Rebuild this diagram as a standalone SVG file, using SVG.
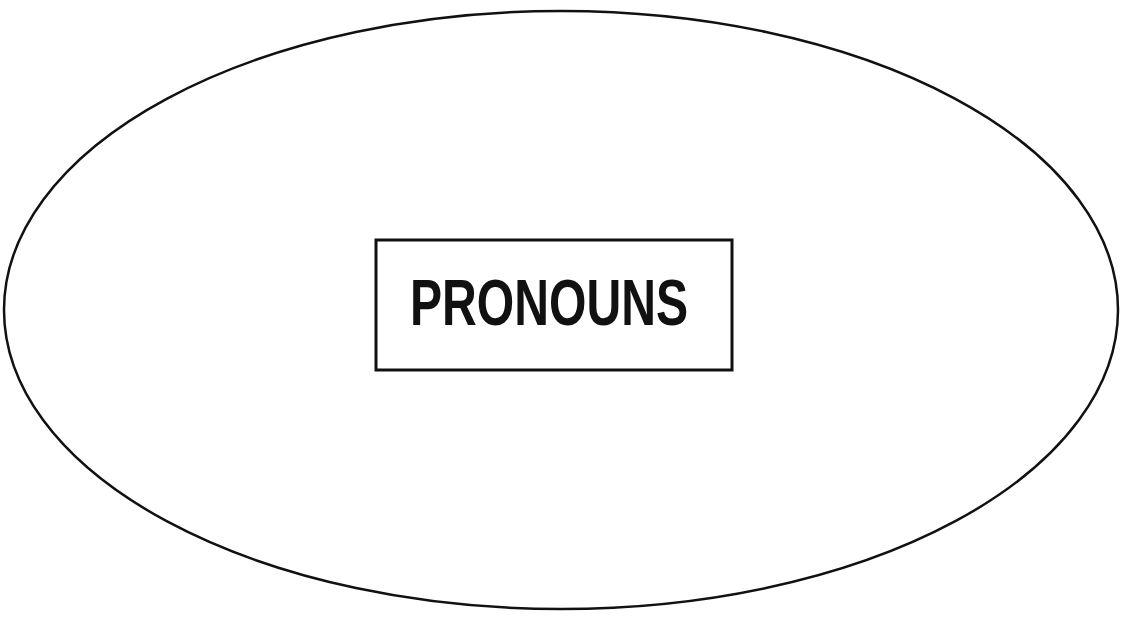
<svg xmlns="http://www.w3.org/2000/svg" width="1122" height="620" viewBox="0 0 1122 620">
<style>
.outline{fill:none;stroke:#111;stroke-width:2.5}
.box{fill:#fff;stroke:#111;stroke-width:3}
.label{font-family:"Liberation Sans",Arial,sans-serif;font-weight:bold;fill:#111}
</style>
<rect width="1122" height="620" fill="#fff"/>
<g id="ellipse-node">
<ellipse class="outline" cx="561" cy="310" rx="557" ry="299"/>
</g>
<g id="pronouns-node">
<rect class="box" x="376" y="240" width="356" height="130"/>
<text class="label" x="549" y="325" font-size="64" text-anchor="middle" textLength="278" lengthAdjust="spacingAndGlyphs">PRONOUNS</text>
</g>
<g id="connectors"></g>
</svg>
